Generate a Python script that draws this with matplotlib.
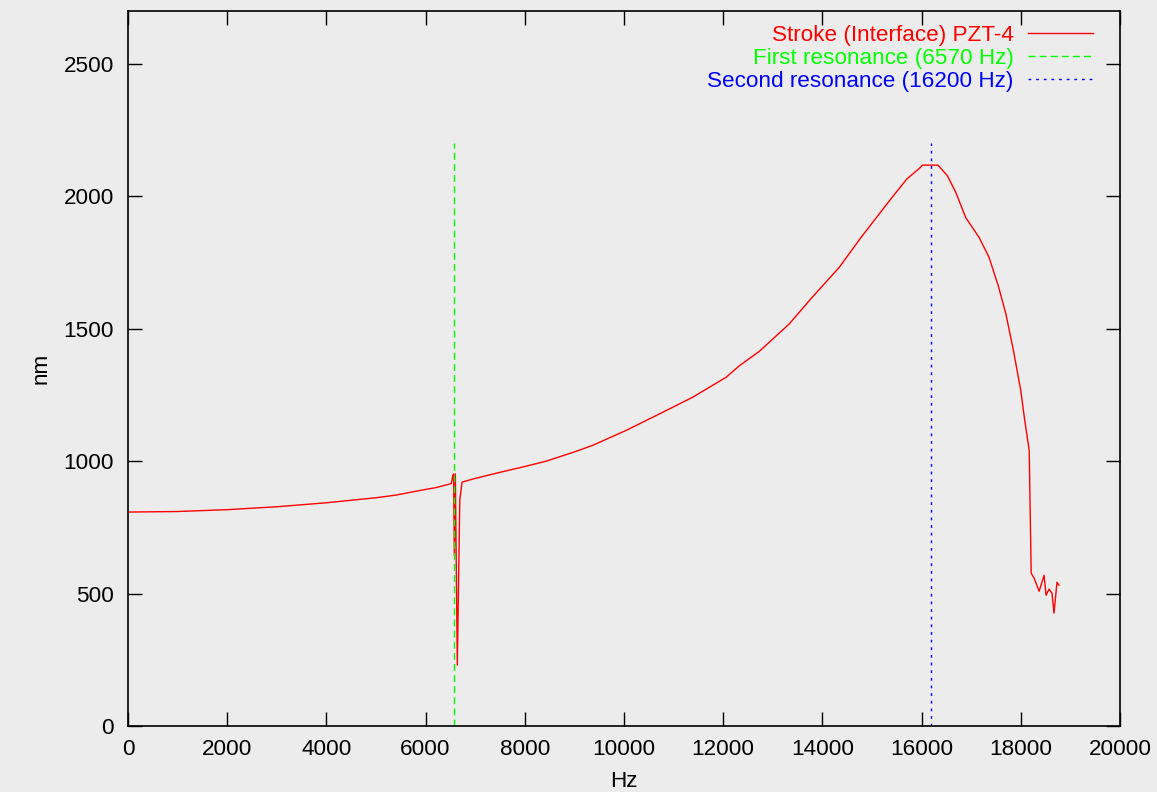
import matplotlib
matplotlib.use("Agg")
import matplotlib.pyplot as plt

plt.rcParams['font.family'] = ['Liberation Sans', 'DejaVu Sans']

# stroke of PZT-4 interface
freq = [0, 1000, 2000, 3000, 4000, 5000, 5400, 5900, 6200, 6450, 6520, 6550, 6565,
        6580, 6600, 6640, 6690, 6735, 7000, 7500, 8000, 8430, 9000, 9370, 10040,
        10720, 11390, 12060, 12330, 12730, 13330, 13800, 14340, 14800, 15350, 15700,
        15950, 16020, 16330, 16520, 16690, 16890, 17160, 17360, 17550, 17700, 17850,
        18000, 18080, 18170, 18210, 18270, 18370, 18470, 18510, 18570, 18630, 18670,
        18730, 18770]
stroke = [808, 810, 817, 828, 843, 862, 872, 890, 900, 912, 916, 946, 952,
          645, 952, 230, 852, 921, 935, 958, 980, 1000, 1035, 1060, 1116,
          1179, 1242, 1317, 1361, 1415, 1518, 1620, 1732, 1850, 1983, 2065,
          2105, 2118, 2118, 2078, 2015, 1920, 1845, 1770, 1660, 1556, 1420,
          1267, 1154, 1041, 577, 558, 509, 569, 494, 517, 501, 426,
          543, 532]

res1 = 6570
res2 = 16200
res_top = 2200

fs = 16.2

fig = plt.figure(figsize=(11.57, 7.92), dpi=100, facecolor="#ececec")
ax = fig.add_axes([0.1106, 0.0833, 0.8574, 0.9028], facecolor="#ececec")

ax.plot(freq, stroke, color="#ff0000", lw=1.0, label="Stroke (Interface) PZT-4")
ax.plot([res1, res1], [0, res_top], color="#00ff00", lw=1.0, dashes=(5, 3),
        label="First resonance (6570 Hz)")
ax.plot([res2, res2], [0, res_top], color="#0000ff", lw=1.0, dashes=(2, 3.5),
        label="Second resonance (16200 Hz)")

ax.set_xlim(0, 20000)
ax.set_ylim(0, 2700)
ax.set_xticks(range(0, 20001, 2000))
ax.set_yticks(range(0, 2501, 500))
ax.tick_params(direction="in", length=10, width=1, top=True, right=True,
               labelsize=fs)
ax.tick_params(axis="x", pad=9)
ax.tick_params(axis="y", pad=10)
for s in ax.spines.values():
    s.set_linewidth(1.2)

ax.set_xlabel("Hz", fontsize=fs, labelpad=8)
ax.set_ylabel("nm", fontsize=fs, labelpad=9)

ax.legend(loc="upper right", bbox_to_anchor=(0.9728, 0.9805), frameon=False,
          markerfirst=False, labelcolor="linecolor", fontsize=fs,
          handlelength=2.9, handletextpad=0.62, labelspacing=0.08,
          borderpad=0.0, borderaxespad=0.0)

fig.savefig("out.png", dpi=100, facecolor=fig.get_facecolor())
